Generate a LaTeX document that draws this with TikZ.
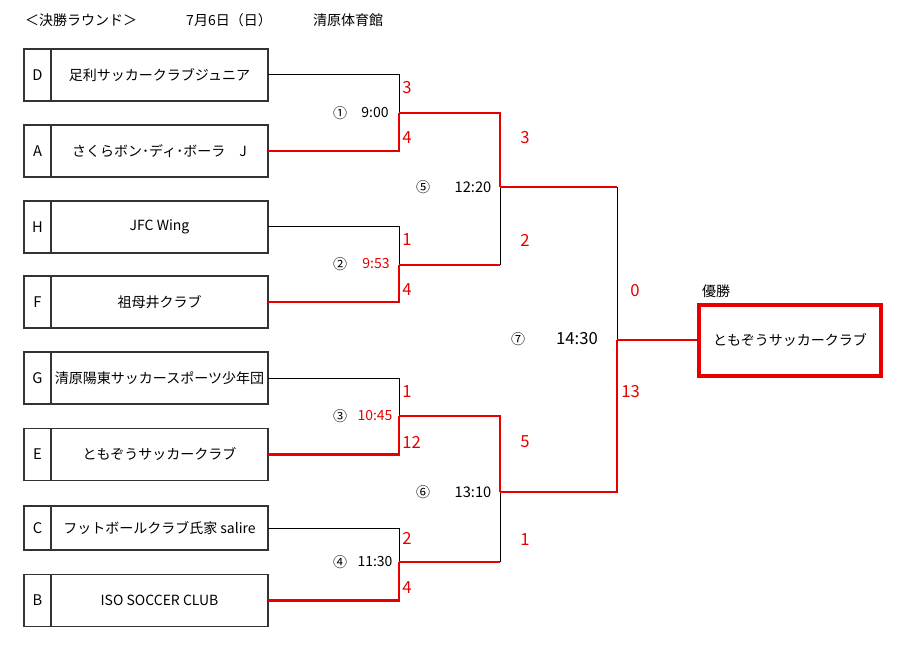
\documentclass[tikz,border=0pt]{standalone}
\usepackage{fontspec}
\setmainfont{Noto Sans CJK JP}
\usepackage{tikz}
\usetikzlibrary{positioning}
\definecolor{winred}{RGB}{232,0,0}

\begin{document}
\begin{tikzpicture}[x=0.75pt, y=-0.75pt,
        letter/.style={rectangle, draw=black!80, line width=1.1pt, inner sep=0pt, outer sep=0pt, minimum width=20.25pt, minimum height=39pt, font=\fontsize{11}{13}\selectfont},
        team/.style={rectangle, draw=black!80, line width=1.1pt, inner sep=0pt, outer sep=0pt, minimum width=162.75pt, minimum height=39pt, font=\fontsize{10.5}{12}\selectfont},
        champ/.style={rectangle, draw=winred, line width=3pt, inner sep=0pt, minimum width=136.5pt, minimum height=53.25pt, font=\fontsize{10.5}{12}\selectfont},
        loseline/.style={draw=black, line width=0.75pt},
        winline/.style={draw=winred, line width=2.2pt},
        score/.style={text=winred, inner sep=0pt, font=\fontsize{12.5}{14}\selectfont},
        match/.style={inner sep=0pt, font=\fontsize{10.5}{12}\selectfont}
      ]
        \useasboundingbox (0,0) rectangle (902,652);

        % header
        \node[match]  (title)  at (81,20)     {＜決勝ラウンド＞};
        \node[match]  (date)   at (229,20)    {7月6日（日）};
        \node[match]  (place)  at (348,20)    {清原体育館};

        % teams
        \node[letter] (lD)  at (37.5,75)                           {D};
        \node[team]   (tD)  [right=0pt of lD]                      {足利サッカークラブジュニア};
        \node[letter] (lA)  at (37.5,151)                          {A};
        \node[team]   (tA)  [right=0pt of lA]                      {さくらボン･ディ･ボーラ　J};
        \node[letter] (lH)  at (37.5,227)                          {H};
        \node[team]   (tH)  [right=0pt of lH]                      {JFC Wing};
        \node[letter] (lF)  at (37.5,302)                          {F};
        \node[team]   (tF)  [right=0pt of lF]                      {祖母井クラブ};
        \node[letter] (lG)  at (37.5,378)                          {G};
        \node[team]   (tG)  [right=0pt of lG]                      {清原陽東サッカースポーツ少年団};
        \node[letter] (lE)  at (37.5,454.5)                        {E};
        \node[team]   (tE)  [right=0pt of lE]                      {ともぞうサッカークラブ};
        \node[letter] (lC)  at (37.5,528) [minimum height=33pt]    {C};
        \node[team]   (tC)  [right=0pt of lC, minimum height=33pt] {フットボールクラブ氏家 salire};
        \node[letter] (lB)  at (37.5,600.5)                        {B};
        \node[team]   (tB)  [right=0pt of lB]                      {ISO SOCCER CLUB};

        \node[champ]  (champ) at (790,340)                         {ともぞうサッカークラブ};
        \node[match]  (yusho) at (716,291)                         {優勝};

        % joints
        \coordinate (m1) at (399,113);
        \coordinate (m2) at (399,265);
        \coordinate (m3) at (399,416);
        \coordinate (m4) at (399,562);
        \coordinate (m5) at (500,187);
        \coordinate (m6) at (500,492);
        \coordinate (m7) at (617,340);

        % losers
        \draw[loseline] (tD.east) -| (m1);
        \draw[loseline] (tH.east) -| (m2);
        \draw[loseline] (tG.east) -| (m3);
        \draw[loseline] (tC.east) -| (m4);
        \draw[loseline] (m2 -| m5) -- (m5);
        \draw[loseline] (m4 -| m6) -- (m6);
        \draw[loseline] (m5 -| m7) -- (m7);

        % winners
        \draw[winline] (tA.east) -| (m1);
        \draw[winline] (tF.east) -| (m2);
        \draw[winline] (tE.east) -| (m3);
        \draw[winline] (tB.east) -| (m4);
        \draw[winline] (m1) -| (m5);
        \draw[winline] (m2) -- (m2 -| m5);
        \draw[winline] (m3) -| (m6);
        \draw[winline] (m4) -- (m4 -| m6);
        \draw[winline] (m5) -- (m5 -| m7);
        \draw[winline] (m6) -| (m7);
        \draw[winline] (m7) -- (champ.west);

        % match numbers and times
        \node[match]  (n1) at (340,113) {①};
        \node[match]  (k1) at (375,113) {9:00};
        \node[match]  (n2) at (340,264) {②};
        \node[match, text=winred] (k2) at (376,264) {9:53};
        \node[match]  (n3) at (340,416) {③};
        \node[match, text=winred] (k3) at (375,416) {10:45};
        \node[match]  (n4) at (340,562) {④};
        \node[match]  (k4) at (375,562) {11:30};
        \node[match]  (n5) at (423,187) {⑤};
        \node[match, font=\fontsize{11}{13}\selectfont] (k5) at (473,187) {12:20};
        \node[match]  (n6) at (423,492) {⑥};
        \node[match, font=\fontsize{11}{13}\selectfont] (k6) at (473,492) {13:10};
        \node[match]  (n7) at (518,339) {⑦};
        \node[match, font=\fontsize{12.5}{14}\selectfont] (k7) at (577,339) {14:30};

        % scores
        \node[score, anchor=west] (s1a) at (402,88)  {3};
        \node[score, anchor=west] (s1b) at (402,138) {4};
        \node[score, anchor=west] (s2a) at (402,240) {1};
        \node[score, anchor=west] (s2b) at (402,290) {4};
        \node[score, anchor=west] (s3a) at (402,392) {1};
        \node[score, anchor=west] (s3b) at (402,442) {12};
        \node[score, anchor=west] (s4a) at (402,538) {2};
        \node[score, anchor=west] (s4b) at (402,588) {4};
        \node[score] (s5a) at (525,138) {3};
        \node[score] (s5b) at (525,240) {2};
        \node[score] (s6a) at (525,442) {5};
        \node[score] (s6b) at (525,540) {1};
        \node[score] (s7a) at (635,291) {0};
        \node[score, anchor=west] (s7b) at (621,392) {13};
      \end{tikzpicture}
\end{document}
